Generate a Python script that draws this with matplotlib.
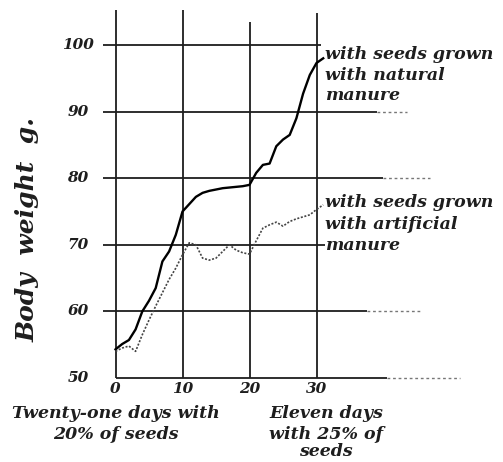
import matplotlib
matplotlib.use("Agg")
import matplotlib.pyplot as plt

# ---- data ----
days = list(range(32))
natural = [54.3, 55.1, 55.7, 57.3, 60.0, 61.6, 63.5, 67.5, 69.0, 71.5,
           75.0, 76.1, 77.2, 77.8, 78.1, 78.3, 78.5, 78.6, 78.7, 78.8,
           79.0, 80.8, 82.0, 82.2, 84.8, 85.8, 86.5, 89.0, 92.7, 95.5,
           97.3, 98.0]
artificial = [54.0, 54.5, 54.8, 54.0, 56.5, 58.7, 60.8, 62.8, 64.8, 66.5,
              68.5, 70.3, 70.0, 68.0, 67.7, 68.0, 69.0, 70.0, 69.2, 68.8,
              68.6, 70.6, 72.5, 73.0, 73.4, 72.8, 73.5, 73.9, 74.2, 74.5,
              75.3, 76.0]
y_ticks = [50, 60, 70, 80, 90, 100]
x_ticks = [0, 10, 20, 30]
y_label = "Body  weight  g."
label_natural = ["with seeds grown", "with natural", "manure"]
label_artificial = ["with seeds grown", "with artificial", "manure"]
note_left = ["Twenty-one days with", "20% of seeds"]
note_right = ["Eleven days", "with 25% of", "seeds"]

# ---- pixel calibration ----
W, H = 503, 462
X0, SX = 115.5, 6.7      # px of day 0, px per day
Y0, SY = 378.0, 6.66     # px (from top) of 50 g, px per g

def px2x(px):
    return (px - X0) / SX

def py2y(py):
    return 50 + (Y0 - py) / SY

fig = plt.figure(figsize=(W / 100, H / 100), dpi=100)
ax = fig.add_axes([0, 0, 1, 1])
ax.set_xlim(px2x(0), px2x(W))
ax.set_ylim(py2y(H), py2y(0))
ax.axis("off")

ink = "#1e1e1e"
font = dict(family="DejaVu Serif", style="italic", weight="bold", color=ink)

# horizontal grid lines: (value, start px, solid end px, dotted end px)
hgrid = {50: (115.5, 387, 460), 60: (103, 367, 420), 70: (103, 325, 325),
         80: (103, 383, 430), 90: (103, 377, 407), 100: (103, 321, 321)}
for v in y_ticks:
    s, e, d = hgrid[v]
    ax.plot([px2x(s), px2x(e)], [v, v], color=ink, lw=1.3, solid_capstyle="butt")
    if d > e:
        ax.plot([px2x(e), px2x(d)], [v, v], color="#777777", lw=1.0,
                ls=(0, (2, 2)))

# vertical grid lines
vtop = {0: 10, 10: 10, 20: 22, 30: 13}
for d in x_ticks:
    ax.plot([d, d], [50, py2y(vtop[d])], color=ink, lw=1.3, solid_capstyle="butt")

# curves
ax.plot(days, natural, color="black", lw=1.7, solid_joinstyle="round")
ax.plot(days, artificial, color="#444444", lw=1.2, ls=(0, (1.2, 1.0)))

# tick labels
for v in y_ticks:
    ax.text(px2x(78), v, str(v), ha="center", va="center", fontsize=11, **font)
for d in x_ticks:
    ax.text(d, py2y(393), str(d), ha="center", va="baseline", fontsize=11, **font)

# y axis label
ax.text(px2x(28), py2y(229), y_label, rotation=90, ha="center", va="center",
        fontsize=18, **font)

# series labels
for line, base in zip(label_natural, [59, 80, 100]):
    ax.text(px2x(325), py2y(base), line, ha="left", va="baseline", fontsize=12.5, **font)
for line, base in zip(label_artificial, [207, 229, 250]):
    ax.text(px2x(325), py2y(base), line, ha="left", va="baseline", fontsize=12.5, **font)

# bottom notes
for line, base in zip(note_left, [418, 439]):
    ax.text(px2x(116), py2y(base), line, ha="center", va="baseline", fontsize=12.5, **font)
for line, base in zip(note_right, [418, 439, 456]):
    ax.text(px2x(326), py2y(base), line, ha="center", va="baseline", fontsize=12.5, **font)

fig.savefig("out.png", dpi=100, facecolor="white")
